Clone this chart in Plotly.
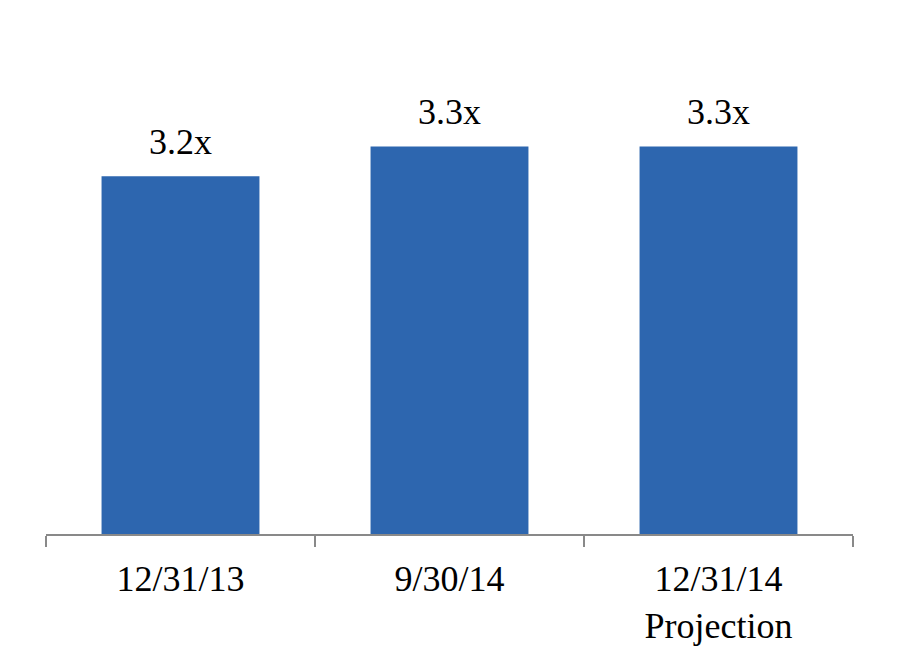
import plotly.graph_objects as go

categories = ["12/31/13", "9/30/14", "12/31/14<br>Projection"]
values = [3.2, 3.3, 3.3]
labels = ["3.2x", "3.3x", "3.3x"]

FONT = "Liberation Serif"

fig = go.Figure()
fig.add_trace(go.Bar(
    x=categories, y=values,
    marker=dict(color="#2D66AF", line=dict(width=0)),
    hoverinfo="skip",
))

for c, v, t in zip(categories, values, labels):
    fig.add_annotation(
        x=c, y=v, text=t, showarrow=False,
        yanchor="bottom", yshift=12,
        font=dict(family=FONT, size=36, color="#000000"),
    )

fig.update_layout(
    width=900, height=660,
    margin=dict(l=38, r=55, t=49, b=134),
    paper_bgcolor="white", plot_bgcolor="white",
    bargap=0.413,
    showlegend=False,
    font=dict(family=FONT, size=36, color="#000000"),
)
fig.update_xaxes(
    showline=True, linecolor="#898989", linewidth=2,
    ticks="outside", tickson="boundaries", ticklen=11, tickwidth=2, tickcolor="#898989",
    tickfont=dict(family=FONT, size=36, color="#000000"),
    ticklabelstandoff=12,
    showgrid=False, zeroline=False,
)
fig.update_yaxes(
    range=[2.0, 3.6], visible=False, showgrid=False, zeroline=False,
)

fig.write_html("out.html")
